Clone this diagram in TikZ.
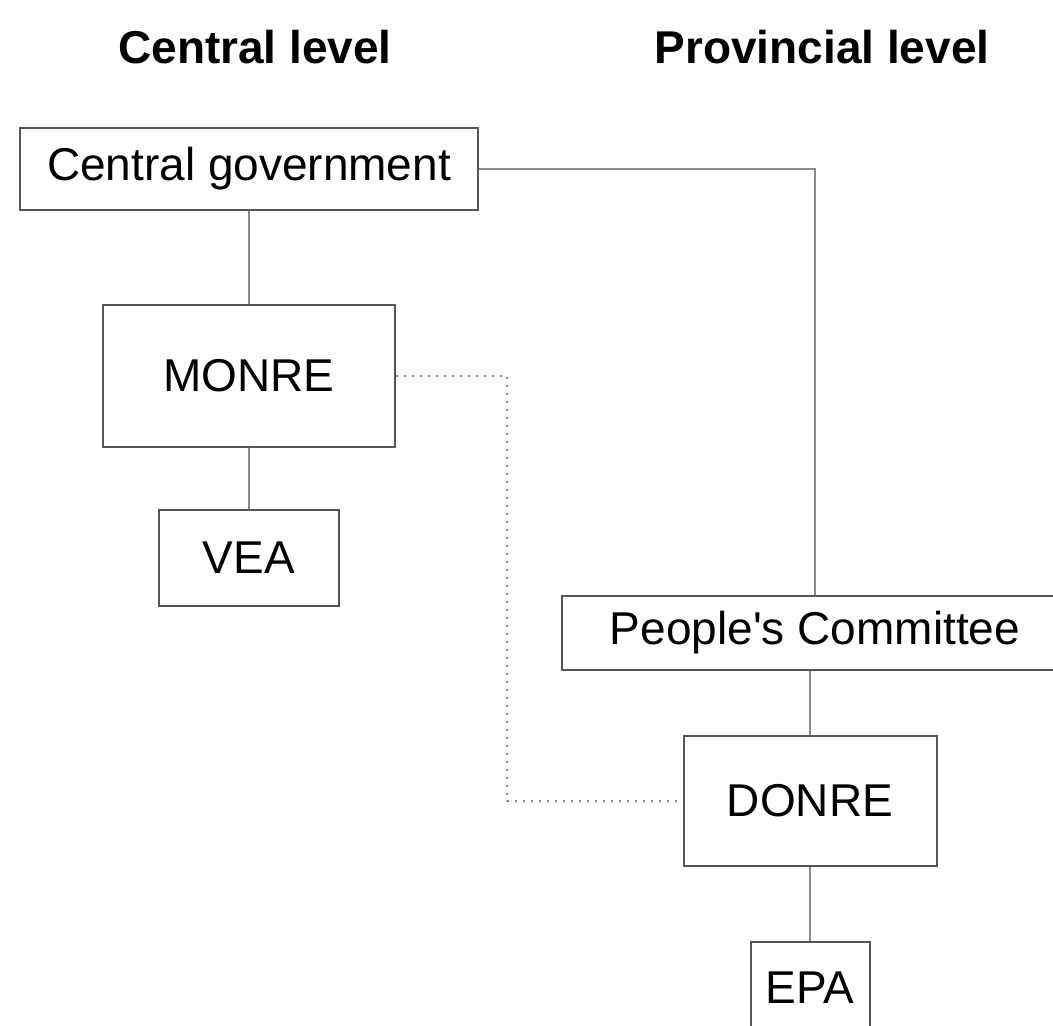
\documentclass[tikz,border=0pt]{standalone}
\usepackage{fontspec}
\setmainfont{Liberation Sans}
\definecolor{boxgray}{HTML}{555555}
\definecolor{linegray}{HTML}{8A8A8A}
\begin{document}
\begin{tikzpicture}[x=0.5pt,y=-0.5pt,font=\fontsize{23}{27}\selectfont,
    box/.style={draw=boxgray,line width=1pt,fill=white,inner sep=0pt},
    link/.style={draw=linegray,line width=1pt},
    tie/.style={draw=linegray,line width=1pt,dash pattern=on 1.2pt off 2.8pt},
    heading/.style={font=\fontsize{23}{27}\selectfont\bfseries}]
    \useasboundingbox (0,0) rectangle (1053,1026);
    \clip (0,0) rectangle (1053,1026);
    % column headings
    \node [heading] (central) at (255,47) {Central level};
    \node [heading] (provincial) at (822,47) {Provincial level};
    % central side
    \node [box,minimum width=229pt,minimum height=41pt] (gov) at (249,169) {Central government};
    \node [box,minimum width=146pt,minimum height=70.5pt] (monre) at (249,376) {MONRE};
    \node [box,minimum width=90pt,minimum height=48pt] (vea) at (249,558) {VEA};
    % provincial side
    \node [box,minimum width=253pt,minimum height=37pt] (pc) at (815,633) {People\textquotesingle s Committee};
    \node [box,minimum width=126.5pt,minimum height=65pt] (donre) at (810,801) {DONRE};
    \node [box,minimum width=59.5pt,minimum height=46pt] (epa) at (810,988) {EPA};
    \coordinate (turn) at (507,376);
    % connectors
    \draw [link] (gov.south) -- (monre.north);
    \draw [link] (monre.south) -- (vea.north);
    \draw [link] (gov.east) -| (pc.north);
    \draw [link] (pc.south -| donre.north) -- (donre.north);
    \draw [link] (donre.south) -- (epa.north);
    \draw [tie] (monre.east) -- (turn) |- (donre.west);
\end{tikzpicture}
\end{document}
